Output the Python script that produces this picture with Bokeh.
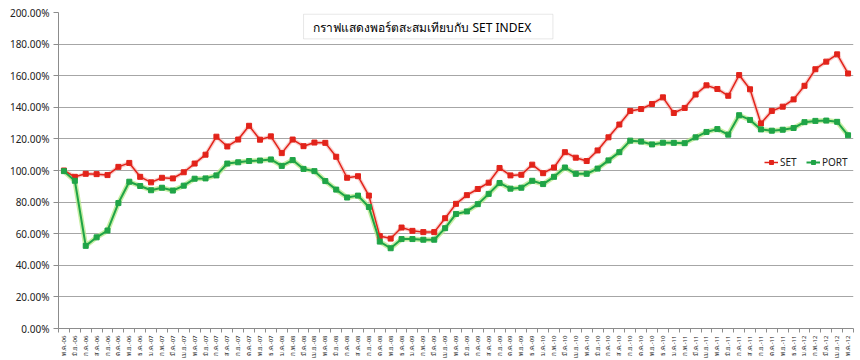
import math
from bokeh.plotting import figure
from bokeh.models import (FixedTicker, PrintfTickFormatter, Legend, LegendItem,
                          Label, BoxAnnotation, Range1d, ColumnDataSource)
from bokeh.embed import file_html
from bokeh.resources import INLINE

thai_months = ["ม.ค.", "ก.พ.", "มี.ค.", "เม.ย.", "พ.ค.", "มิ.ย.",
               "ก.ค.", "ส.ค.", "ก.ย.", "ต.ค.", "พ.ย.", "ธ.ค."]
n_months = 73
month_labels = [f"{thai_months[(4 + i) % 12]}-{6 + (4 + i) // 12:02d}" for i in range(n_months)]

set_values = [100.0, 96.0, 97.9, 97.7, 97.1, 102.3, 104.8, 96.0, 92.5, 95.4,
              95.0, 98.9, 104.4, 110.0, 121.4, 115.2, 119.6, 128.3, 119.5, 121.6,
              111.0, 119.6, 115.4, 117.7, 117.5, 108.7, 95.4, 96.4, 84.1, 58.5,
              56.9, 63.9, 61.8, 61.0, 61.0, 69.8, 78.9, 84.4, 88.3, 92.3,
              101.6, 96.9, 97.3, 103.7, 98.3, 101.9, 111.6, 108.1, 106.0, 112.7,
              121.0, 129.1, 137.7, 138.9, 142.1, 146.3, 136.4, 139.6, 148.1, 153.9,
              151.6, 147.3, 160.4, 151.4, 129.8, 137.7, 140.4, 145.0, 153.6, 164.1,
              168.9, 173.5, 161.4]
port_values = [99.6, 93.5, 52.3, 57.7, 62.0, 79.4, 92.9, 90.2, 87.5, 89.1,
               87.3, 90.4, 94.8, 95.0, 96.9, 104.4, 105.2, 106.0, 106.3, 107.0,
               102.9, 106.6, 101.0, 99.6, 93.3, 87.9, 82.9, 84.1, 76.9, 55.0,
               50.8, 56.6, 56.6, 56.2, 56.2, 63.5, 72.5, 74.1, 78.7, 85.2,
               92.1, 88.5, 89.1, 93.5, 91.4, 96.0, 101.9, 97.9, 97.9, 101.2,
               106.4, 111.6, 118.9, 118.3, 116.5, 117.6, 117.5, 117.3, 121.0, 124.4,
               126.2, 122.7, 135.0, 132.0, 126.0, 125.2, 125.8, 126.9, 130.6, 131.4,
               131.6, 130.8, 122.3]
y_ticks = [0, 20, 40, 60, 80, 100, 120, 140, 160, 180, 200]
title_text = "กราฟแสดงพอร์ตสะสมเทียบกับ SET INDEX"

x = list(range(n_months))
src = ColumnDataSource(dict(x=x, set=set_values, port=port_values))

FONT = "Noto Sans"

p = figure(width=860, height=360, output_backend="svg", toolbar_location=None,
           x_range=Range1d(-0.5, n_months - 0.5), y_range=Range1d(0, 200),
           min_border_left=58, min_border_right=7, min_border_top=12, min_border_bottom=28)
p.background_fill_color = "white"
p.border_fill_color = "white"
p.outline_line_color = None

# axes
p.yaxis.ticker = FixedTicker(ticks=y_ticks)
p.yaxis.formatter = PrintfTickFormatter(format="%.2f%%")
p.yaxis.major_label_text_font = FONT
p.yaxis.major_label_text_font_size = "10px"
p.yaxis.major_label_text_color = "#222222"
p.yaxis.axis_line_color = "#8c8c8c"
p.yaxis.major_tick_line_color = "#8c8c8c"
p.yaxis.major_tick_out = 5
p.yaxis.major_tick_in = 0
p.yaxis.minor_tick_line_color = None
p.yaxis.major_label_standoff = 4

p.xaxis.ticker = FixedTicker(ticks=x, minor_ticks=[i - 0.5 for i in range(n_months + 1)])
p.xaxis.major_label_overrides = {i: lab for i, lab in enumerate(month_labels)}
p.xaxis.major_label_orientation = math.pi / 2
p.xaxis.major_label_text_font = FONT
p.xaxis.major_label_text_font_size = "6px"
p.xaxis.major_label_text_color = "#222222"
p.xaxis.axis_line_color = "#8c8c8c"
p.xaxis.major_tick_line_color = None
p.xaxis.minor_tick_line_color = "#8c8c8c"
p.xaxis.minor_tick_out = 4
p.xaxis.minor_tick_in = 0
p.xaxis.major_label_standoff = 1

p.xgrid.grid_line_color = None
p.ygrid.grid_line_color = "#a6a6a6"
p.ygrid.grid_line_width = 1

# glow
p.line("x", "set", source=src, line_color="#f4a6a0", line_width=4, line_alpha=0.55)
p.line("x", "port", source=src, line_color="#b4e886", line_width=5, line_alpha=0.75)

RED = "#e2231a"
GREEN = "#1fa447"
set_line = p.line("x", "set", source=src, line_color=RED, line_width=1.5)
set_pts = p.scatter("x", "set", source=src, marker="square", size=5,
                    fill_color=RED, line_color=RED)
port_line = p.line("x", "port", source=src, line_color=GREEN, line_width=2)
port_pts = p.scatter("x", "port", source=src, marker="square", size=5,
                     fill_color=GREEN, line_color=GREEN)

legend = Legend(items=[LegendItem(label="SET", renderers=[set_line, set_pts]),
                       LegendItem(label="PORT", renderers=[port_line, port_pts])],
                orientation="horizontal", location=(706, 159),
                background_fill_alpha=0, border_line_color=None,
                label_text_font=FONT, label_text_font_size="10px",
                label_text_color="#222222", glyph_width=14, glyph_height=10,
                label_standoff=2, spacing=6, padding=2, margin=0)
p.add_layout(legend, "center")

# title box
p.add_layout(BoxAnnotation(left=22.0, right=44.9, bottom=183.3, top=198.9,
                           fill_color="white", fill_alpha=1.0,
                           line_color="#b0b0b0", line_width=1))
p.add_layout(Label(x=22.9, y=190.8, text=title_text, text_font=FONT,
                   text_font_size="12px", text_color="#000000",
                   text_baseline="middle", text_align="left"))

open("out.html", "w").write(file_html(p, INLINE))
